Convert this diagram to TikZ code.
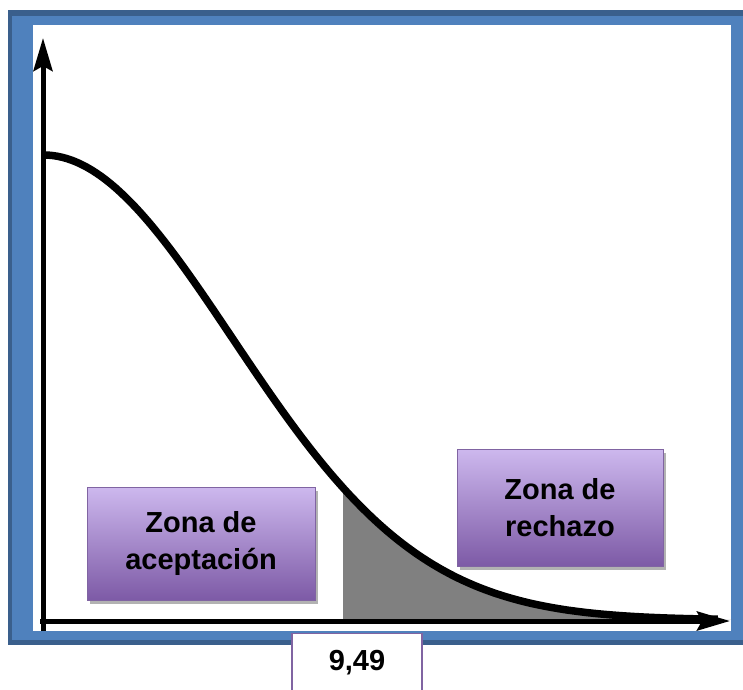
\documentclass[tikz,border=0pt]{standalone}
\usepackage{fontspec}
\setmainfont{Liberation Sans}
\usetikzlibrary{arrows.meta,shadows}
\definecolor{frameblue}{HTML}{4F81BD}
\definecolor{framedark}{HTML}{3A5F8C}
\definecolor{boxtop}{HTML}{CDB8EE}
\definecolor{boxbot}{HTML}{7D5AA6}
\definecolor{boxline}{HTML}{8064A2}
\definecolor{tailgray}{HTML}{808080}
\tikzset{
  zone/.style={draw=boxline, line width=1pt, top color=boxtop, bottom color=boxbot,
    align=center, inner sep=0pt, text=black,
    font=\fontsize{29}{37.5}\selectfont\bfseries,
    drop shadow={shadow xshift=3pt, shadow yshift=-4pt, fill=black, opacity=0.3}},
  valbox/.style={draw=boxline, fill=white, line width=1.3pt, inner sep=0pt},
  axisline/.style={line width=5pt, -{Stealth[length=33pt, width=19pt, inset=5pt]}},
  bell/.style={line width=7.5pt, line join=round}
}
\begin{document}
\begin{tikzpicture}[x=1pt,y=-1pt]
\useasboundingbox (0,0) rectangle (743,689);
% frame
\fill[framedark] (8,10) rectangle (760,645);
\fill[frameblue] (12,16) rectangle (760,640);
\fill[white] (33,25) rectangle (731,631);
% shaded tail
\fill[tailgray] (343,621) -- plot[domain=3:6.9, samples=80]
  ({43+100*\x},{620-465*exp(-(\x)^2/7.16)}) -- cycle;
% axes
\coordinate (yb) at (43,631);
\coordinate (yt) at (43,38);
\coordinate (xl) at (40,621);
\coordinate (xr) at (730,621);
\draw[axisline] (yb) -- (yt);
\draw[axisline] (xl) -- (xr);
% curve
\draw[bell] plot[domain=0:6.75, samples=140]
  ({43+100*\x},{620-465*exp(-(\x)^2/7.16)});
% boxes
\node[zone, minimum width=228pt, minimum height=113pt] (acc) at (201,543.5) {Zona de\\aceptación};
\node[zone, minimum width=206pt, minimum height=117pt] (rej) at (560,507.5) {Zona de\\rechazo};
\node[valbox, minimum width=130pt, minimum height=70pt, anchor=north] (val) at (357,633) {};
\node[font=\fontsize{29}{35}\selectfont\bfseries] (valtxt) at (357,663) {9,49};
\end{tikzpicture}
\end{document}
